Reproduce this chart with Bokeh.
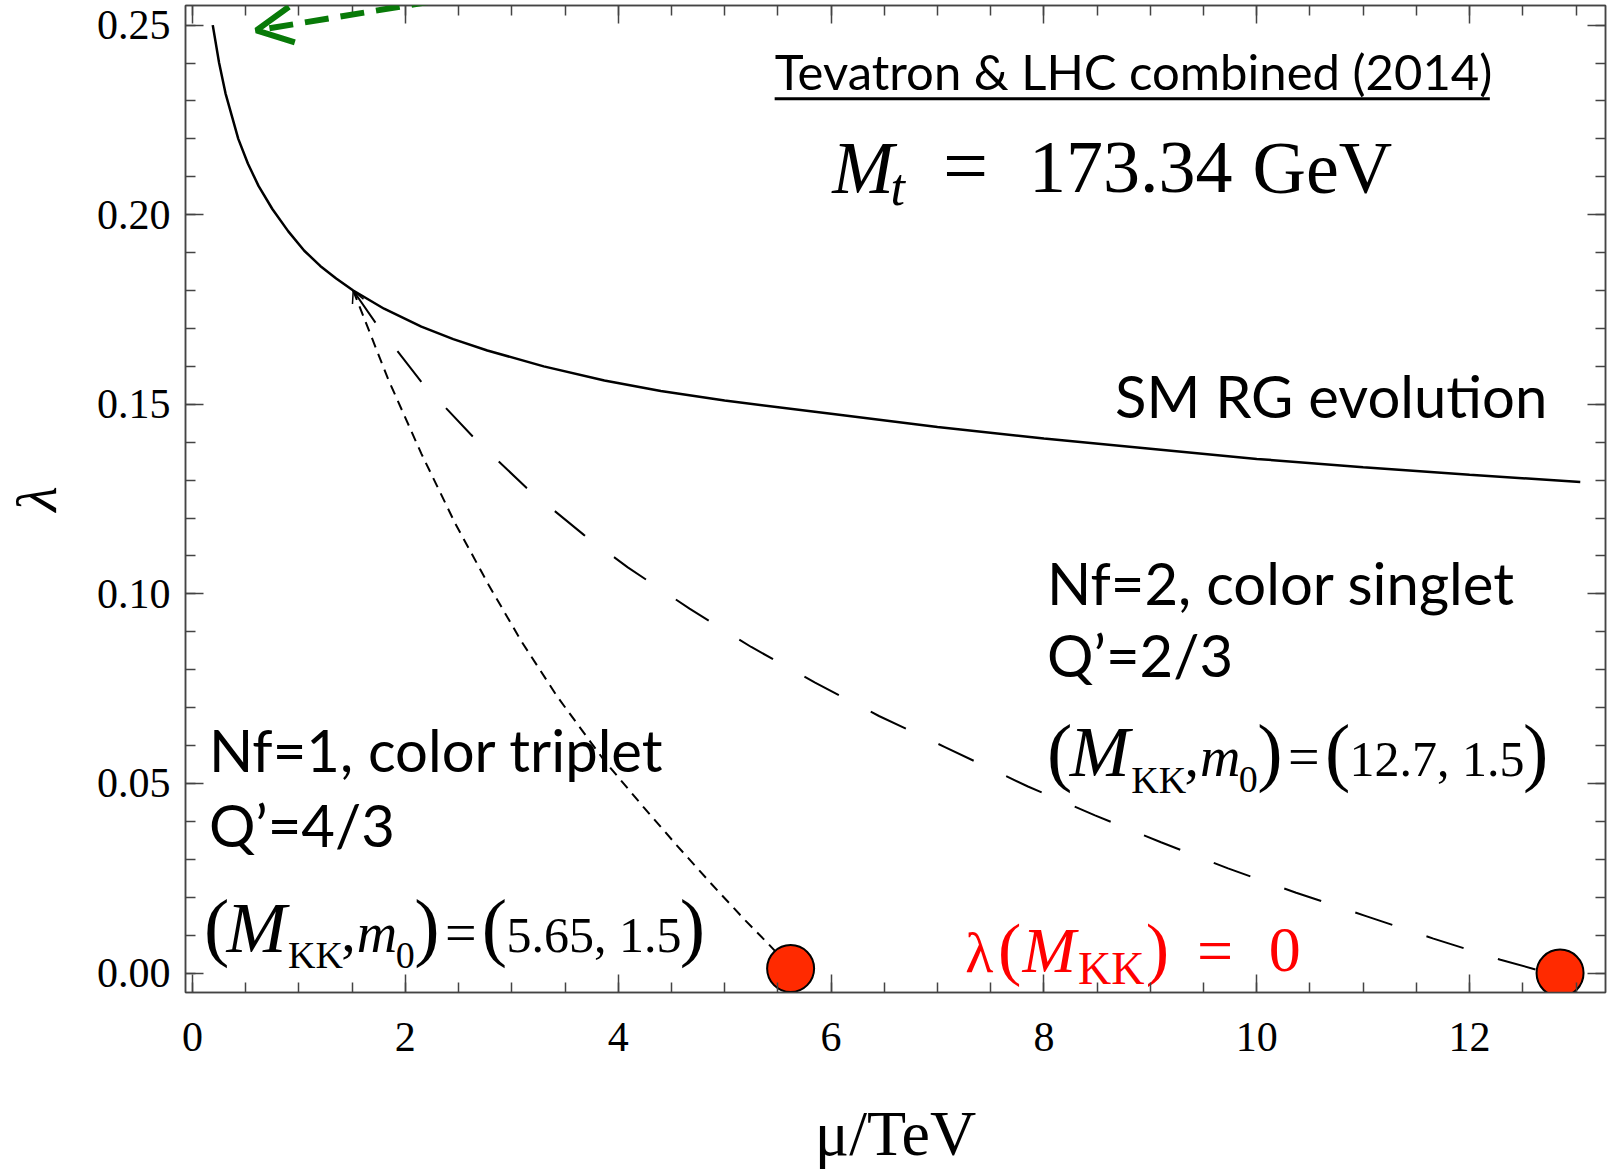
import numpy as np
from bokeh.plotting import figure
from bokeh.models import (Range1d, LinearAxis, FixedTicker, Arrow, OpenHead, NumeralTickFormatter,
                          CustomJSTickFormatter)
from bokeh.core.properties import value
from bokeh.embed import file_html
from bokeh.resources import INLINE

# ---------------- data ----------------
SM_MU = [0.19, 0.25, 0.31, 0.37, 0.43, 0.52, 0.62, 0.75, 0.90, 1.05, 1.20, 1.35, 1.51, 1.80, 2.15,
         2.45, 2.77, 3.30, 3.87, 4.40, 5.00, 6.00, 7.00, 8.00, 9.00, 10.00, 11.00, 12.00, 13.04]
SM_LAMBDA = [0.250, 0.240, 0.232, 0.226, 0.220, 0.2135, 0.2076, 0.2015, 0.1956, 0.1905, 0.1865,
             0.1832, 0.180, 0.1752, 0.1705, 0.1672, 0.1642, 0.1600, 0.1563, 0.1535, 0.1510, 0.1475,
             0.1440, 0.1410, 0.1383, 0.1356, 0.1334, 0.1314, 0.1295]

TRIPLET_MU = [1.51, 1.84, 2.15, 2.47, 2.78, 3.09, 3.43, 3.87, 4.24, 4.55, 4.87, 5.18, 5.40, 5.62]
TRIPLET_LAMBDA = [0.180, 0.1565, 0.137, 0.1185, 0.1025, 0.0875, 0.0728, 0.0560, 0.0437, 0.0337,
                  0.0237, 0.0143, 0.0080, 0.0015]

SINGLET_MU = [1.51, 1.72, 2.15, 2.64, 3.14, 3.68, 4.09, 4.67, 5.25, 5.85, 6.45, 7.07, 7.85, 8.48,
              9.10, 9.73, 10.37, 11.02, 11.66, 12.29, 12.68]
SINGLET_LAMBDA = [0.180, 0.1715, 0.1559, 0.1413, 0.1279, 0.1155, 0.1070, 0.0961, 0.0860, 0.0766,
                  0.0678, 0.0596, 0.0492, 0.0416, 0.0345, 0.0276, 0.0212, 0.0151, 0.0091, 0.0035, 0.0005]

ZERO_MU = [5.62, 12.85]
ZERO_LAMBDA = [0.0012, 0.0]

X_TICKS = [0, 2, 4, 6, 8, 10, 12]
X_MINOR = [v * 0.5 for v in range(0, 27)]
Y_TICKS = [0.00, 0.05, 0.10, 0.15, 0.20, 0.25]
Y_TICK_LABELS = ["0.00", "0.05", "0.10", "0.15", "0.20", "0.25"]
Y_MINOR = [v * 0.01 for v in range(0, 26)]

# ---------------- figure ----------------
W, H = 1608, 1171
SERIF = "Liberation Serif"
SANS = "Lato"
FRAME = "#444444"

p = figure(width=W, height=H, output_backend="svg", toolbar_location=None,
           x_range=Range1d(-0.066, 13.277), y_range=Range1d(-0.00512, 0.25517),
           min_border_left=180, min_border_right=3, min_border_top=5, min_border_bottom=174,
           x_axis_label="μ/TeV", y_axis_label="λ")
p.grid.visible = False
p.outline_line_color = FRAME
p.outline_line_width = 1.5
p.background_fill_color = "white"
p.border_fill_color = "white"


def style_axis(ax, ticks, minor, labels=True):
    ax.ticker = FixedTicker(ticks=ticks, minor_ticks=minor)
    ax.major_tick_in = 18
    ax.major_tick_out = 0
    ax.minor_tick_in = 10
    ax.minor_tick_out = 0
    ax.major_tick_line_color = FRAME
    ax.minor_tick_line_color = FRAME
    ax.major_tick_line_width = 1.5
    ax.minor_tick_line_width = 1.5
    ax.axis_line_color = FRAME
    ax.axis_line_width = 1.5
    if labels:
        ax.major_label_text_font = SERIF
        ax.major_label_text_font_size = "42px"
        ax.major_label_text_color = "black"
    else:
        ax.formatter = CustomJSTickFormatter(code="return ''")
        ax.major_label_text_font_size = "1px"
        ax.major_label_standoff = 0


xa = p.xaxis[0]
ya = p.yaxis[0]
style_axis(xa, X_TICKS, X_MINOR)
style_axis(ya, Y_TICKS, Y_MINOR)
ya.formatter = NumeralTickFormatter(format="0.00")
ya.major_label_overrides = {t: s for t, s in zip(Y_TICKS, Y_TICK_LABELS)}
xa.major_label_standoff = 30
ya.major_label_standoff = 15

xa.axis_label_text_font = SERIF
xa.axis_label_text_font_size = "64px"
xa.axis_label_text_font_style = "normal"
xa.axis_label_text_color = "black"
xa.axis_label_standoff = 44
ya.axis_label_text_font = SERIF
ya.axis_label_text_font_size = "58px"
ya.axis_label_text_font_style = "italic"
ya.axis_label_text_color = "black"
ya.axis_label_standoff = 25

top_ax = LinearAxis()
style_axis(top_ax, X_TICKS, X_MINOR, labels=False)
p.add_layout(top_ax, "above")
right_ax = LinearAxis()
style_axis(right_ax, Y_TICKS, Y_MINOR, labels=False)
p.add_layout(right_ax, "right")

# ---------------- curves ----------------
p.line(SM_MU, SM_LAMBDA, line_color="black", line_width=2.5)
p.line(TRIPLET_MU, TRIPLET_LAMBDA, line_color="black", line_width=2, line_dash="10 7")
p.line(SINGLET_MU, SINGLET_LAMBDA, line_color="black", line_width=2, line_dash="39 36")
p.add_layout(Arrow(end=OpenHead(size=12, line_width=1.5, line_color="black"),
                   x_start=TRIPLET_MU[1] - 0.25, y_start=0.1748, x_end=TRIPLET_MU[0], y_end=TRIPLET_LAMBDA[0],
                   line_width=0, line_alpha=0))
p.scatter(ZERO_MU, ZERO_LAMBDA, size=47, fill_color="#ff2a00", line_color="black", line_width=2)

# green dashed arrow (top left)
GREEN = "#087a08"
p.add_layout(Arrow(end=OpenHead(size=36, line_width=6, line_color=GREEN),
                   x_start=2.28, y_start=0.2564, x_end=0.60, y_end=0.2486,
                   line_color=GREEN, line_width=6, line_dash="24 12"))

# ---------------- texts ----------------
S = 1.0255  # offsets below measured in reference (display) pixels
K_BASE = {SERIF: 0.33, SANS: 0.40}  # baseline correction (fraction of font size)


def piece(x, y, txt, dx, dy, size, style="normal", font=SERIF, color="black", align="left"):
    p.text(x=[x], y=[y], text=[txt], x_offset=dx * S, y_offset=dy * S - K_BASE[font] * size,
           text_font=value(font), text_font_size=f"{size}px", text_font_style=style,
           text_color=color, text_align=align, text_baseline="alphabetic")


# header
TEV_X, TEV_Y, UNDER_Y, UNDER_X1 = 5.47, 0.2328, 0.2306, 12.19
piece(TEV_X, TEV_Y, "Tevatron & LHC combined (2014)", 0, 0, 49, font=SANS)
p.segment(x0=[TEV_X], y0=[UNDER_Y], x1=[UNDER_X1], y1=[UNDER_Y], line_color="black", line_width=3)

MT_X, MT_Y = 6.01, 0.2059
for txt, dx, dy, sz, st in [("M", 0, 0, 74, "italic"), ("t", 57, 12, 52, "italic"),
                            ("=", 108, 0, 80, "normal"), ("173.34", 192, 0, 74, "normal"),
                            ("GeV", 410, 0, 74, "normal")]:
    piece(MT_X, MT_Y, txt, dx, dy, sz, st)

piece(12.73, 0.1461, "SM RG evolution", 0, 0, 58, font=SANS, align="right")

NF2_X = 8.03
piece(NF2_X, 0.0969, "Nf=2, color singlet", 0, 0, 58, font=SANS)
piece(NF2_X, 0.0778, "Q’=2/3", 0, 0, 58, font=SANS)

NF1_X = 0.154
piece(NF1_X, 0.0528, "Nf=1, color triplet", 0, 0, 58, font=SANS)
piece(NF1_X, 0.0331, "Q’=4/3", 0, 0, 58, font=SANS)


def params(x, y, nums):
    for txt, dx, dy, sz, st in [("(", 0, 0, 76, "normal"), ("M", 22, 0, 72, "italic"),
                                ("KK", 82, 16, 38, "normal"), (",", 134, 0, 58, "normal"),
                                ("m", 149, 0, 56, "italic"), ("0", 187, 16, 38, "normal"),
                                (")", 205, 0, 76, "normal"), ("=", 235, 0, 56, "normal"),
                                ("(", 271, 0, 76, "normal"), (nums, 295, 0, 50, "normal"),
                                (")", 464, 0, 76, "normal")]:
        piece(x, y, txt, dx, dy, sz, st)


params(8.03, 0.0520, "12.7, 1.5")
params(0.107, 0.0057, "5.65, 1.5")

RED = "#ff0000"
ZT_X, ZT_Y = 7.26, 0.0005
for txt, dx, dy, sz, st in [("λ", 0, 0, 58, "normal"), ("(", 32, 0, 70, "normal"),
                            ("M", 56, 0, 64, "italic"), ("KK", 110, 12, 46, "normal"),
                            (")", 176, 0, 70, "normal"), ("=", 226, 0, 64, "normal"),
                            ("0", 296, 0, 64, "normal")]:
    piece(ZT_X, ZT_Y, txt, dx, dy, sz, st, color=RED)

open("out.html", "w").write(file_html(p, INLINE))
